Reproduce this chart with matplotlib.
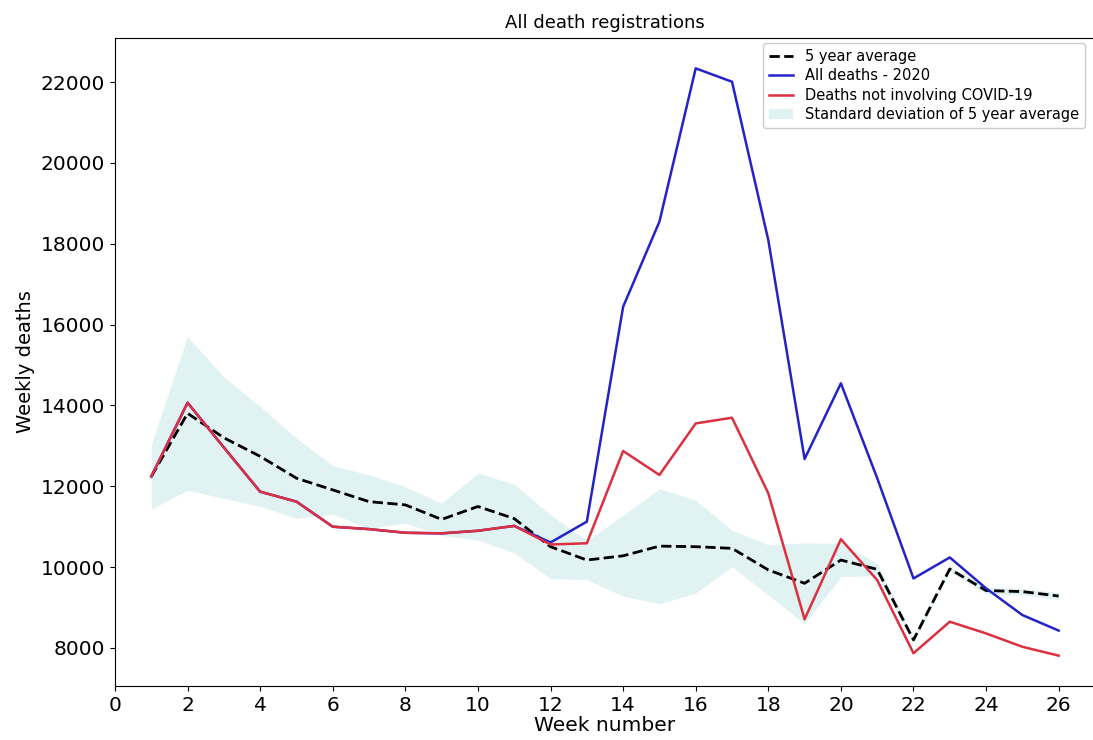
import numpy as np
import matplotlib
matplotlib.use('Agg')
import matplotlib.pyplot as plt

# Weekly death registrations, weeks 1-26
weeks = list(range(1, 27))

avg_5yr = [12240, 13805, 13200, 12740, 12200, 11910, 11620, 11540, 11180, 11500,
           11200, 10505, 10175, 10280, 10520, 10505, 10465, 9930, 9600, 10175,
           9945, 8200, 9955, 9420, 9395, 9285]

std_5yr = [800, 1900, 1500, 1235, 990, 600, 660, 450, 400, 830,
           850, 790, 480, 1000, 1420, 1150, 450, 620, 1000, 410,
           150, 60, 60, 80, 80, 80]

all_deaths_2020 = [12240, 14067, 12960, 11866, 11620, 11000, 10940, 10850, 10835, 10900,
                   11020, 10610, 11125, 16440, 18545, 22338, 22007, 18090, 12675, 14547,
                   12200, 9720, 10240, 9475, 8815, 8430]

non_covid = [12240, 14067, 12960, 11866, 11620, 11000, 10940, 10850, 10835, 10900,
             11020, 10560, 10590, 12873, 12280, 13555, 13696, 11826, 8710, 10690,
             9680, 7870, 8650, 8360, 8030, 7810]

avg = np.array(avg_5yr)
std = np.array(std_5yr)

fig = plt.figure(figsize=(10.93, 7.4), dpi=100)
ax = fig.add_axes([0.1052, 0.073, 0.8966, 0.8757])

ax.fill_between(weeks, avg - std, avg + std, color='#e0f2f2', linewidth=0,
                label='Standard deviation of 5 year average')
ax.plot(weeks, avg_5yr, 'k--', linewidth=2, label='5 year average')
ax.plot(weeks, all_deaths_2020, color='#2323c8', linewidth=1.8, label='All deaths - 2020')
ax.plot(weeks, non_covid, color='#dc3040', linewidth=1.8, label='Deaths not involving COVID-19')

ax.set_xlim(0, 27)
ax.set_ylim(7060, 23090)
ax.set_xticks(range(0, 27, 2))
ax.tick_params(labelsize=14.5)
ax.set_xlabel('Week number', fontsize=14.5, labelpad=1)
ax.set_ylabel('Weekly deaths', fontsize=14)
ax.set_title('All death registrations', fontsize=13, pad=7)

# legend order as in the original: average, all deaths, non-covid, band
handles, labels = ax.get_legend_handles_labels()
order = [1, 2, 3, 0]
ax.legend([handles[i] for i in order], [labels[i] for i in order],
          loc='upper left', bbox_to_anchor=(0.661, 0.992), borderaxespad=0,
          fontsize=10.5, handlelength=1.7, labelspacing=0.3, framealpha=1)

plt.savefig('out.png', dpi=100)
plt.close()
